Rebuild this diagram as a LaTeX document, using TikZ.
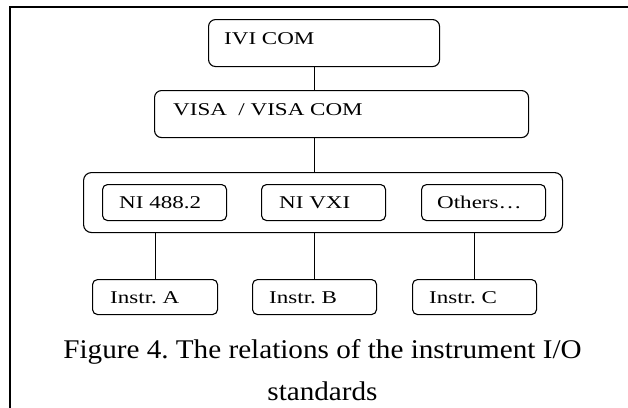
\documentclass[tikz,border=0pt]{standalone}
\usepackage{fontspec}
\setmainfont{Liberation Serif}
\newfontfamily\boxfont[FakeStretch=1.28]{Liberation Serif}
\newfontfamily\capfont[FakeStretch=1.08]{Liberation Serif}
\frenchspacing
\begin{document}
\begin{tikzpicture}[x=1pt,y=-1pt,
  box/.style={draw, line width=1.1pt, rounded corners=5pt, anchor=north west, inner sep=0pt},
  lbl/.style={anchor=base west, inner sep=0pt, font=\boxfont\fontsize{18}{20}\selectfont},
  captext/.style={anchor=base, inner sep=0pt, font=\capfont\fontsize{27}{32}\selectfont},
  conn/.style={line width=1pt}]
\useasboundingbox (0,0) rectangle (628,407);
% frame
\draw[line width=1.5pt] (10,410) -- (10,7) -- (630,7);
% boxes
\node[box, rounded corners=7pt, minimum width=231, minimum height=47] (ivi) at (208,19) {};
\node[box, rounded corners=7pt, minimum width=374, minimum height=47] (visa) at (154,90) {};
\node[box, rounded corners=8pt, minimum width=479, minimum height=60] (grp) at (83,172) {};
\node[box, minimum width=124, minimum height=36] (ni) at (102,184) {};
\node[box, minimum width=124, minimum height=36] (vxi) at (261,184) {};
\node[box, minimum width=124, minimum height=36] (oth) at (421,184) {};
\node[box, minimum width=125, minimum height=35] (insta) at (92,279) {};
\node[box, minimum width=124, minimum height=35] (instb) at (252,279) {};
\node[box, minimum width=124, minimum height=35] (instc) at (412,279) {};
% labels
\node[lbl] (ivit) at (224,44) {IVI COM};
\node[lbl] (visat) at (173,115) {VISA \ / VISA COM};
\node[lbl] (nit) at (119,208) {NI 488.2};
\node[lbl] (vxit) at (279,208) {NI VXI};
\node[lbl] (otht) at (437,208) {Others\ldots};
\node[lbl] (instat) at (110,303) {Instr. A};
\node[lbl] (instbt) at (269,303) {Instr. B};
\node[lbl] (instct) at (429,303) {Instr. C};
% connectors
\draw[conn] (instb.north |- ivi.south) -- (instb.north |- visa.north);
\draw[conn] (instb.north |- visa.south) -- (instb.north |- grp.north);
\draw[conn] (insta.north |- grp.south) -- (insta.north);
\draw[conn] (instb.north |- grp.south) -- (instb.north);
\draw[conn] (instc.north |- grp.south) -- (instc.north);
% caption
\node[captext] (cap1) at (322.5,358) {Figure 4. The relations of the instrument I/O};
\node[captext] (cap2) at (322.5,400) {standards};
\end{tikzpicture}
\end{document}
